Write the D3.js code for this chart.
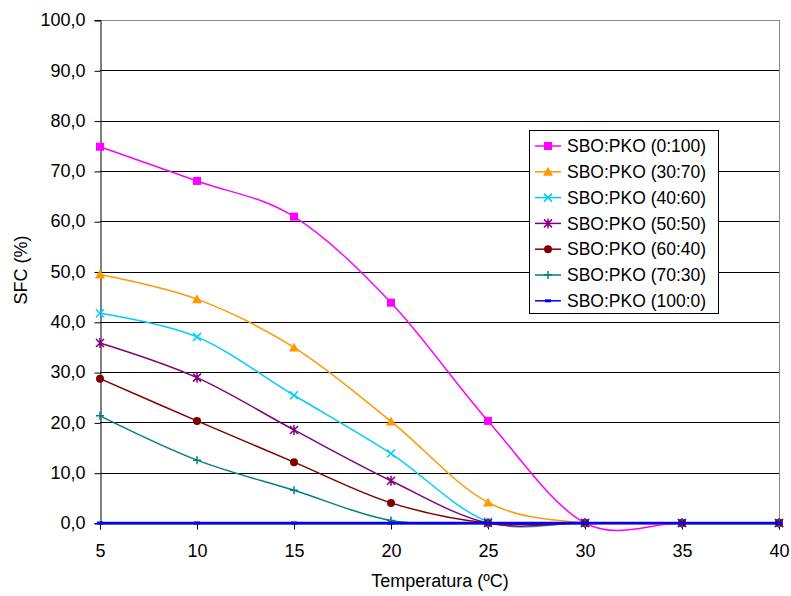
<!DOCTYPE html>
<html><head><meta charset="utf-8">
<script src="https://cdn.jsdelivr.net/npm/d3@7"></script>
<style>body{margin:0;background:#fff}svg{display:block}text{font-family:"Liberation Sans",Arial,sans-serif}</style>
</head><body>
<svg id="c" width="791" height="596"></svg>
<script>
const temps = [5, 10, 15, 20, 25, 30, 35, 40];
const seriesNames = ["SBO:PKO (0:100)", "SBO:PKO (30:70)", "SBO:PKO (40:60)", "SBO:PKO (50:50)", "SBO:PKO (60:40)", "SBO:PKO (70:30)", "SBO:PKO (100:0)"];
const s0_100  = [74.8, 68.0, 60.9, 43.8, 20.3, 0, 0, 0];
const s30_70  = [49.4, 44.5, 34.9, 20.2, 4.1, 0, 0, 0];
const s40_60  = [41.7, 37.0, 25.4, 13.8, 0.3, 0, 0, 0];
const s50_50  = [35.8, 28.9, 18.5, 8.4, 0, 0, 0, 0];
const s60_40  = [28.7, 20.3, 12.1, 4.0, 0, 0, 0, 0];
const s70_30  = [21.3, 12.5, 6.5, 0.5, 0, 0, 0, 0];
const s100_0  = [0, 0, 0, 0, 0, 0, 0, 0];
const yTicks = [0, 10, 20, 30, 40, 50, 60, 70, 80, 90, 100];
const xTicks = [5, 10, 15, 20, 25, 30, 35, 40];
const seriesValues = [s0_100, s30_70, s40_60, s50_50, s60_40, s70_30, s100_0];
const colors = ["#FF00FF", "#FF9900", "#00CCFF", "#800080", "#800000", "#008080", "#0000FF"];
const markers = ["square", "triangle", "x", "star", "circle", "plus", "dash"];

const svg = d3.select("#c");
const L = 100, R = 779, T = 20, B = 523;
const x = d3.scaleLinear().domain([5, 40]).range([L, R]);
const y = d3.scaleLinear().domain([0, 100]).range([B, T]);
const fmt = v => d3.format(".1f")(v).replace(".", ",");

// gridlines
svg.append("g").selectAll("line").data(yTicks.filter(d => d > 0)).join("line")
  .attr("x1", L).attr("x2", R).attr("y1", d => Math.round(y(d)) + 0.5).attr("y2", d => Math.round(y(d)) + 0.5)
  .attr("stroke", d => d === 100 ? "#888" : "#000").attr("stroke-width", 1);
// right border
svg.append("line").attr("x1", R + 0.5).attr("x2", R + 0.5).attr("y1", T).attr("y2", B).attr("stroke", "#888");

// axes
const yAxis = svg.append("g").attr("transform", `translate(${L + 0.5},0)`)
  .call(d3.axisLeft(y).tickValues(yTicks).tickFormat(fmt).tickSize(6).tickPadding(9));
const xAxis = svg.append("g").attr("transform", `translate(0,${B + 0.5})`)
  .call(d3.axisBottom(x).tickValues(xTicks).tickFormat(d3.format("d")).tickSize(6).tickPadding(15));
[yAxis, xAxis].forEach(a => {
  a.select(".domain").attr("stroke", "#000");
  a.selectAll(".tick line").attr("stroke", "#000");
  a.selectAll("text").attr("font-size", 18).attr("fill", "#000").attr("font-family", '"Liberation Sans",Arial,sans-serif');
});
yAxis.selectAll(".tick line").attr("transform", "translate(0,0.5)");

// titles
svg.append("text").attr("x", 440).attr("y", 587).attr("text-anchor", "middle").attr("font-size", 18).text("Temperatura (ºC)");
svg.append("text").attr("transform", "translate(27,270) rotate(-90)").attr("text-anchor", "middle").attr("font-size", 18).text("SFC (%)");

const line = d3.line().x((d, i) => x(temps[i])).y(d => y(d)).curve(d3.curveCardinal.tension(0));

function drawMarker(g, type, color) {
  const s = 4;
  if (type === "square") g.append("rect").attr("x", -s).attr("y", -s).attr("width", 2 * s).attr("height", 2 * s).attr("fill", color);
  else if (type === "triangle") g.append("path").attr("d", `M0,${-s - 1}L${s + 1},${s}L${-s - 1},${s}Z`).attr("fill", color);
  else if (type === "circle") g.append("circle").attr("r", s).attr("fill", color);
  else if (type === "x") g.append("path").attr("d", `M${-s},${-s}L${s},${s}M${-s},${s}L${s},${-s}`).attr("stroke", color).attr("stroke-width", 1.5);
  else if (type === "star") g.append("path").attr("d", `M${-s},${-s}L${s},${s}M${-s},${s}L${s},${-s}M0,${-s - 1}L0,${s + 1}`).attr("stroke", color).attr("stroke-width", 1.5);
  else if (type === "plus") g.append("path").attr("d", `M${-s},0L${s},0M0,${-s}L0,${s}`).attr("stroke", color).attr("stroke-width", 1.5);
  else if (type === "dash") g.append("rect").attr("x", -3).attr("y", -1.5).attr("width", 6).attr("height", 3).attr("fill", color);
}

seriesValues.forEach((vals, k) => {
  svg.append("path").datum(vals).attr("d", line).attr("fill", "none")
    .attr("stroke", colors[k]).attr("stroke-width", k === 6 ? 2.5 : 1.5);
  vals.forEach((v, i) => {
    const g = svg.append("g").attr("transform", `translate(${x(temps[i])},${y(v)})`);
    drawMarker(g, markers[k], colors[k]);
  });
});

// legend
const lg = svg.append("g");
lg.append("rect").attr("x", 529.5).attr("y", 130.5).attr("width", 189).attr("height", 183).attr("fill", "#fff").attr("stroke", "#000");
seriesNames.forEach((n, k) => {
  const yy = 146 + k * 25.8;
  lg.append("line").attr("x1", 535).attr("x2", 561).attr("y1", yy).attr("y2", yy).attr("stroke", colors[k]).attr("stroke-width", 1.5);
  drawMarker(lg.append("g").attr("transform", `translate(548,${yy})`), markers[k], colors[k]);
  lg.append("text").attr("x", 567).attr("y", yy).attr("dy", "0.35em").attr("font-size", 17.5).text(n);
});
</script>
</body></html>
